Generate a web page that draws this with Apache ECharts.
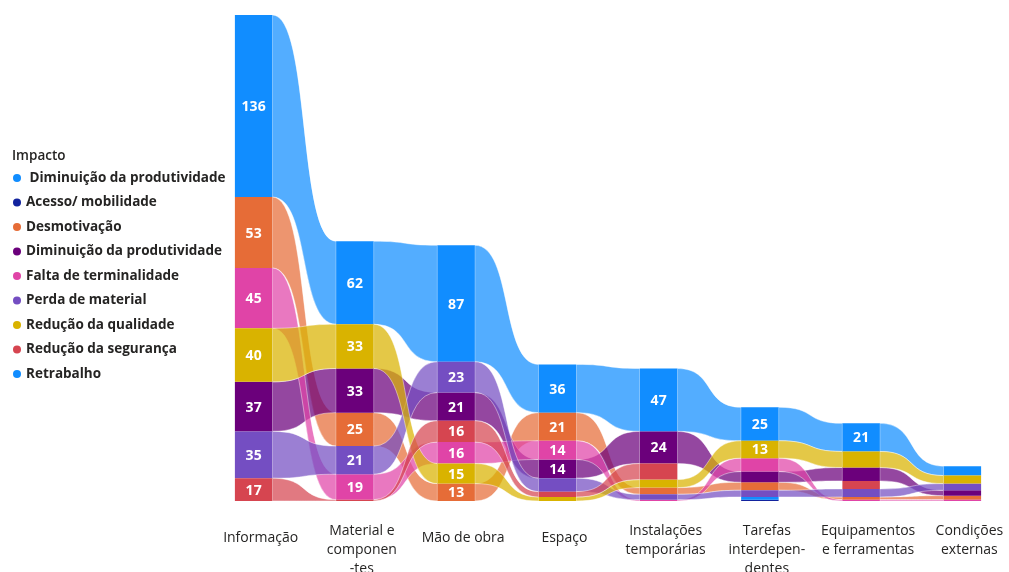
<!DOCTYPE html>
<html><head><meta charset="utf-8">
<script src="https://cdn.jsdelivr.net/npm/echarts@6/dist/echarts.min.js"></script>
<style>html,body{margin:0;padding:0;background:#fff}#c{width:1009px;height:572px}</style>
</head><body><div id="c"></div>
<script>
const categories = ['Informação','Material e componentes','Mão de obra','Espaço','Instalações temporárias','Tarefas interdependentes','Equipamentos e ferramentas','Condições externas'];
const axisLabels = ['Informação','Material e\ncomponen\n-tes','Mão de obra','Espaço','Instalações\ntemporárias','Tarefas\ninterdepen-\ndentes','Equipamentos\ne ferramentas','Condições\nexternas'];
const seriesNames = [' Diminuição da produtividade','Acesso/ mobilidade','Desmotivação','Diminuição da produtividade','Falta de terminalidade','Perda de material','Redução da qualidade','Redução da segurança','Retrabalho'];
const seriesColors = ['#118DFF','#12239E','#E66C37','#6B007B','#E044A7','#744EC2','#D9B300','#D64550','#118DFF'];
const diminuicaoProdutividade1 = [136,62,87,36,47,25,21,7];
const acessoMobilidade        = [0,0,0,0,0,1,0,0];
const desmotivacao            = [53,25,13,21,5,6,2,3];
const diminuicaoProdutividade2 = [37,33,21,14,24,8,10,4];
const faltaTerminalidade      = [45,19,16,14,1,10,1,1];
const perdaMaterial           = [35,21,23,10,4,5,6,5];
const reducaoQualidade        = [40,33,15,3,6,13,12,6];
const reducaoSeguranca        = [17,1,16,4,12,0,6,0];
const retrabalho              = [0,0,0,0,0,2,0,0];
const yMax = 363;
const labelMin = 13;

const values = [diminuicaoProdutividade1, acessoMobilidade, desmotivacao, diminuicaoProdutividade2,
  faltaTerminalidade, perdaMaterial, reducaoQualidade, reducaoSeguranca, retrabalho];

// stack per column: largest on top, ties -> higher series index on top
const lo = values.map(() => []), hi = values.map(() => []);
categories.forEach((c, ci) => {
  const idx = values.map((v, s) => s).filter(s => values[s][ci] > 0);
  idx.sort((a, b) => (values[a][ci] - values[b][ci]) || (a - b));
  let acc = 0;
  idx.forEach(s => { lo[s][ci] = acc; acc += values[s][ci]; hi[s][ci] = acc; });
});

function hexA(h, a) {
  const r = parseInt(h.slice(1,3),16), g = parseInt(h.slice(3,5),16), b = parseInt(h.slice(5,7),16);
  return `rgba(${r},${g},${b},${a})`;
}
const BAR = 0.37;
const series = [];
values.forEach((vals, s) => {
  const color = seriesColors[s];
  const ribbonData = [];
  for (let ci = 0; ci < categories.length - 1; ci++) {
    if (vals[ci] > 0 && vals[ci+1] > 0) ribbonData.push([ci, lo[s][ci], hi[s][ci], lo[s][ci+1], hi[s][ci+1]]);
  }
  series.push({
    type: 'custom', name: seriesNames[s], z: 1, itemStyle: {color},
    encode: {x: 0, y: [1, 2]}, silent: true,
    data: ribbonData,
    renderItem(params, api) {
      const ci = api.value(0);
      const bw = api.size([1, 0])[0] * BAR;
      const a1 = api.coord([ci, api.value(2)]), a0 = api.coord([ci, api.value(1)]);
      const b1 = api.coord([ci + 1, api.value(4)]), b0 = api.coord([ci + 1, api.value(3)]);
      const x1 = a1[0] + bw / 2, x2 = b1[0] - bw / 2, dx = x2 - x1, k = 0.6;
      const d = `M${x1},${a1[1]} C${x1 + dx*k},${a1[1]} ${x2 - dx*k},${b1[1]} ${x2},${b1[1]} ` +
                `L${x2},${b0[1]} C${x2 - dx*k},${b0[1]} ${x1 + dx*k},${a0[1]} ${x1},${a0[1]} Z`;
      return {type: 'path', shape: {pathData: d},
        style: {fill: hexA(color, 0.72), stroke: 'rgba(255,255,255,0.55)', lineWidth: 0.8}};
    }
  });
  const barData = [];
  vals.forEach((v, ci) => { if (v > 0) barData.push([ci, lo[s][ci], hi[s][ci], v]); });
  series.push({
    type: 'custom', name: seriesNames[s], z: 2, itemStyle: {color},
    encode: {x: 0, y: [1, 2]}, silent: true,
    data: barData,
    renderItem(params, api) {
      const ci = api.value(0), v = api.value(3);
      const bw = api.size([1, 0])[0] * BAR;
      const p1 = api.coord([ci, api.value(2)]), p0 = api.coord([ci, api.value(1)]);
      const children = [{type: 'rect', shape: {x: p1[0] - bw/2, y: p1[1], width: bw, height: p0[1] - p1[1]},
        style: {fill: color}}];
      if (v >= labelMin) children.push({type: 'text', style: {text: String(v), x: p1[0], y: (p1[1] + p0[1]) / 2 + 1,
        align: 'center', verticalAlign: 'middle', fill: '#fff', fontSize: 14, fontWeight: 'bold', fontFamily: 'Open Sans'}});
      return {type: 'group', children};
    }
  });
});

const chart = echarts.init(document.getElementById('c'), null, {renderer: 'canvas'});
chart.setOption({
  animation: false,
  title: {text: 'Impacto', left: 7, top: 144, textStyle: {fontSize: 13.5, fontWeight: 600, color: '#252423', fontFamily: 'Open Sans'}},
  legend: {
    orient: 'vertical', left: 8, top: 166, itemWidth: 8, itemHeight: 8, itemGap: 10.5,
    data: seriesNames.map(n => ({name: n, icon: 'circle'})),
    textStyle: {fontSize: 13.5, fontWeight: 'bold', color: '#252423', fontFamily: 'Open Sans', lineHeight: 14},
    selectedMode: false
  },
  grid: {left: 203, right: -4, top: 15, bottom: 71, outerBoundsMode: 'none', containLabel: false},
  xAxis: {
    type: 'category', data: categories, boundaryGap: true,
    axisLine: {show: false}, axisTick: {show: false},
    axisLabel: {
      interval: 0, margin: 21, hideOverlap: false, color: '#252423', fontSize: 14, fontFamily: 'Open Sans', lineHeight: 19,
      padding: [0, 0, 0, 14],
      formatter: (v, i) => axisLabels[i].indexOf('\n') < 0 ? `{s|${axisLabels[i]}}` : axisLabels[i],
      rich: {s: {fontSize: 14, fontFamily: 'Open Sans', color: '#252423', lineHeight: 33}}
    }
  },
  yAxis: {type: 'value', min: 0, max: yMax, show: false, splitLine: {show: false}},
  series
});
</script></body></html>
